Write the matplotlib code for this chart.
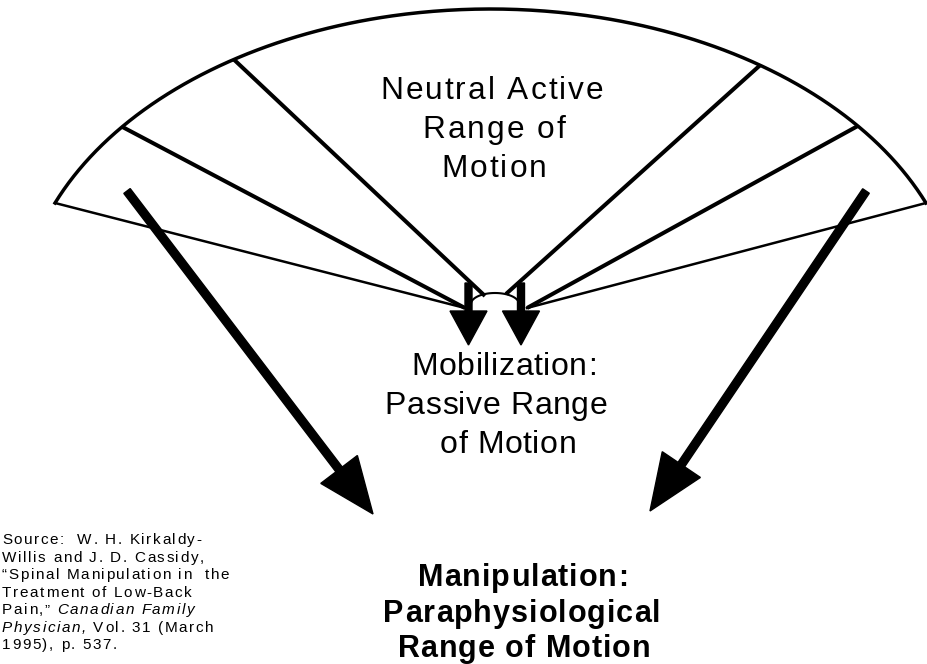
import numpy as np
import matplotlib
matplotlib.use("Agg")
import matplotlib.pyplot as plt
from matplotlib.font_manager import FontProperties, findfont
from matplotlib.ft2font import FT2Font

W, H = 928, 664
DPI = 100

# ==========================
# geometry of the fan (pixel coords, y grows downwards)
# ==========================
arc_center = (490.5, 320)
arc_axes = (470, 311)
arc_ends = (157.9, 22.1)              # degrees, left end / right end
spoke_angles = [141.6, 123.1, 55.0, 38.6]
left_hub = (465, 308)
right_hub = (527, 308)
inner_ends = [(485, 296), (506, 294)]
spoke_targets = [left_hub, inner_ends[0], inner_ends[1], right_hub]

hub_arc_center = (495, 304)
hub_arc_axes = (24, 11)

# arrows: start, end
small_arrows = [((468.5, 283), (468.5, 345)), ((521, 283), (521, 345))]
big_arrows = [((127, 191), (373, 514)), ((866, 191), (650, 511))]

# ==========================
# texts
# ==========================
top_lines = ["Neutral Active", "Range of", "Motion"]
mid_lines = ["Mobilization:", "Passive Range", "of Motion"]
low_lines = ["Manipulation:", "Paraphysiological", "Range of Motion"]
source_lines = [
    [("Source:  W. H. Kirkaldy-", "normal")],
    [("Willis and J. D. Cassidy,", "normal")],
    [("\u201cSpinal Manipulation in  the", "normal")],
    [("Treatment of Low-Back", "normal")],
    [("Pain,\u201d ", "normal"), ("Canadian Family", "italic")],
    [("Physician,", "italic"), (" Vol. 31 (March", "normal")],
    [("1995), p. 537.", "normal")],
]


def ellipse_pt(center, axes, deg):
    t = np.radians(deg)
    return center[0] + axes[0] * np.cos(t), center[1] - axes[1] * np.sin(t)


def advances(s, prop):
    font = FT2Font(findfont(prop))
    font.set_size(prop.get_size_in_points(), DPI)
    return [font.load_char(ord(c)).linearHoriAdvance / 65536 for c in s]


def line_width(pieces, track):
    total = 0
    n = 0
    for s, prop in pieces:
        total += sum(advances(s, prop))
        n += len(s)
    return total + track * (n - 1)


def draw_tracked(ax, x, y, pieces, track):
    for s, prop in pieces:
        for c, a in zip(s, advances(s, prop)):
            if c != " ":
                ax.text(x, y, c, fontproperties=prop, ha="left",
                        va="baseline", color="black")
            x += a + track


fig = plt.figure(figsize=(W / DPI, H / DPI), dpi=DPI)
ax = fig.add_axes([0, 0, 1, 1])
ax.set_xlim(0, W)
ax.set_ylim(H, 0)
ax.axis("off")

# outer arc
t = np.linspace(arc_ends[0], arc_ends[1], 400)
ax.plot(*ellipse_pt(arc_center, arc_axes, t), color="black", lw=2.5)

# spokes
for ang, tgt in zip(spoke_angles, spoke_targets):
    x0, y0 = ellipse_pt(arc_center, arc_axes, ang)
    ax.plot([x0, tgt[0]], [y0, tgt[1]], color="black", lw=2.9,
            solid_capstyle="butt")

# lower edges of the fan
for ang, tgt in zip(arc_ends, [left_hub, right_hub]):
    x0, y0 = ellipse_pt(arc_center, arc_axes, ang)
    ax.plot([x0, tgt[0]], [y0, tgt[1]], color="black", lw=1.8)

# small arc at the hub
t = np.linspace(0, 180, 100)
ax.plot(*ellipse_pt(hub_arc_center, hub_arc_axes, t), color="black", lw=1.5)

for (x0, y0), (x1, y1) in small_arrows:
    ax.arrow(x0, y0, x1 - x0, y1 - y0, width=7, head_width=37,
             head_length=34, length_includes_head=True, color="black",
             zorder=5)

for (x0, y0), (x1, y1) in big_arrows:
    ax.arrow(x0, y0, x1 - x0, y1 - y0, width=8, head_width=46,
             head_length=56, length_includes_head=True, color="black",
             zorder=5)

# centred labels
reg = FontProperties(family="Liberation Sans", size=22.8)
reg2 = FontProperties(family="Liberation Sans", size=23)
bold = FontProperties(family="Liberation Sans", weight="bold", size=22)

blocks = [
    (top_lines, reg, 2.0, [492, 494, 494], [99, 138, 177]),
    (mid_lines, reg2, 0.6, [504, 496, 508], [375, 414, 453]),
    (low_lines, bold, 1.0, [523, 522, 524], [586, 622, 657]),
]
for lines, prop, track, cxs, ys in blocks:
    for s, cx, y in zip(lines, cxs, ys):
        pieces = [(s, prop)]
        wdt = line_width(pieces, track)
        draw_tracked(ax, cx - wdt / 2, y, pieces, track)

# source note
src = FontProperties(family="Liberation Sans", size=11)
src_it = FontProperties(family="Liberation Sans", style="italic", size=11)
src_y = [544, 562, 579, 597, 614, 632, 649]
for line, y in zip(source_lines, src_y):
    pieces = [(s, src_it if st == "italic" else src) for s, st in line]
    draw_tracked(ax, 2, y, pieces, 1.6)

fig.savefig("out.png", dpi=DPI)
